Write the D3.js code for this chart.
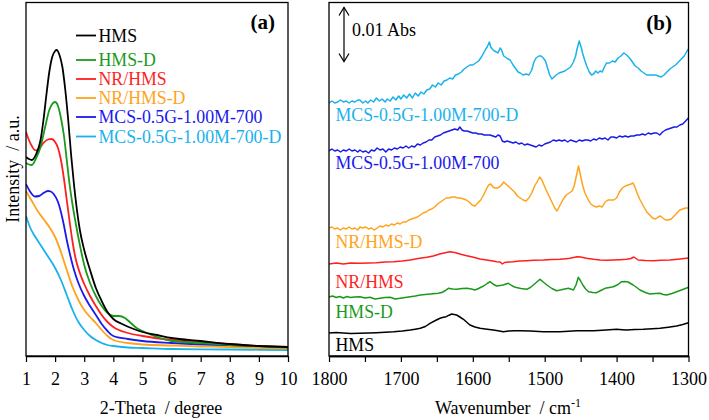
<!DOCTYPE html>
<html><head><meta charset="utf-8">
<script src="https://cdn.jsdelivr.net/npm/d3@7"></script>
<style>body{margin:0;background:#fff}svg{display:block}text{font-family:"Liberation Serif","Times New Roman",serif}</style>
</head><body><svg id="c" width="709" height="420"></svg>
<script>
// ---------- data ----------
const seriesNames = ["HMS","HMS-D","NR/HMS","NR/HMS-D","MCS-0.5G-1.00M-700","MCS-0.5G-1.00M-700-D"];
const seriesColors = ["#000000","#1a9a1a","#ff1f1f","#ffa31a","#1a1aeb","#1ab2ec"];
const xrdTicks = [1,2,3,4,5,6,7,8,9,10];
const irTicks = [1800,1700,1600,1500,1400,1300];
const irMinorTicks = [1750,1650,1550,1450,1350];
const scaleBarAbs = "0.01 Abs";
const scaleBarUnits = 54; // a.u. corresponding to 0.01 Abs

// XRD (a): [2-theta, intensity a.u.]
const xrdHMS = [[1.0,199],[1.1,197],[1.2,196],[1.35,202],[1.5,216],[1.6,236],[1.7,261],[1.8,284],[1.9,299],[2.0,305],[2.05,306],[2.15,301],[2.25,289],[2.35,266],[2.45,236],[2.55,201],[2.65,171],[2.75,146],[2.85,126],[3.0,106],[3.2,86],[3.4,68],[3.6,55],[3.8,44],[4.0,37],[4.3,32],[4.7,27],[5.0,24],[5.5,21],[6.0,18],[7.0,15],[8.0,12],[9.0,10],[10,9]];
const xrdHMSD = [[1.0,193],[1.1,191.5],[1.2,191],[1.35,198],[1.5,209],[1.65,228],[1.8,246],[1.9,252],[2.0,254],[2.1,250],[2.2,238],[2.3,221],[2.4,196],[2.5,171],[2.6,151],[2.7,134],[2.85,111],[3.0,91],[3.2,73],[3.4,60],[3.6,50],[3.8,43],[4.0,40],[4.2,40],[4.4,38],[4.6,33],[4.8,28],[5.0,25],[5.5,19],[6.0,15],[7.0,13],[8.0,11],[9.0,10],[10,8.5]];
const xrdNR = [[1.0,224],[1.1,216],[1.2,210],[1.3,206],[1.4,205.5],[1.5,209],[1.6,213],[1.75,216.5],[1.88,217],[2.0,214],[2.1,208],[2.2,196],[2.3,178],[2.4,156],[2.5,134],[2.6,114],[2.7,98],[2.85,83],[3.0,72],[3.2,60],[3.4,50],[3.6,41],[3.8,34],[4.0,29],[4.5,23],[5.0,20],[6.0,16],[7.0,14],[8.0,12],[9.0,10],[10,9]];
const xrdNRD = [[1.0,165],[1.2,155],[1.4,145],[1.6,137],[1.8,129],[2.0,119],[2.2,104],[2.4,86],[2.6,69],[2.8,56],[3.0,46],[3.2,39],[3.4,33],[3.6,26],[3.8,20],[4.0,16],[4.5,13],[5.0,11.5],[6.0,10.5],[7.0,9.5],[8.0,9],[9.0,8],[10,7.5]];
const xrdMCS = [[1.0,172],[1.15,164],[1.3,159.5],[1.45,160],[1.6,163],[1.75,165],[1.85,164.5],[1.95,162],[2.1,154],[2.2,144],[2.3,131],[2.4,116],[2.5,103],[2.65,86],[2.8,73],[3.0,60],[3.2,50],[3.4,41],[3.6,32],[3.8,25],[4.0,20],[4.5,17],[5.0,15],[6.0,13],[7.0,11.5],[8.0,10.5],[9.0,9.5],[10,8.5]];
const xrdMCSD = [[1.0,140],[1.15,128],[1.3,120],[1.5,111],[1.7,102],[1.9,93],[2.0,88],[2.2,76],[2.4,61],[2.6,46],[2.8,34],[3.0,26],[3.2,20],[3.4,16],[3.6,13],[3.8,11],[4.0,10],[4.5,8.5],[5.0,8],[6.0,7],[8.0,6.5],[10,6]];

// FTIR (b): [wavenumber, offset absorbance a.u.]
const irHMS = [[1800,23],[1790,23.5],[1780,23],[1770,22.5],[1757,22.7],[1745,23],[1734,23.3],[1722,23.8],[1710,24.3],[1698,25],[1687,26],[1680,26.8],[1673,27.7],[1666,29.5],[1659.5,32.7],[1652,35.5],[1645.6,37.7],[1641,38.7],[1637,39.3],[1633,40.8],[1629.4,42],[1626,41.5],[1622.5,41],[1618,39],[1613,36.7],[1608,33.5],[1604,31],[1597,29],[1590,27.7],[1580,26.8],[1571.5,26],[1565,25.3],[1557.6,24.3],[1550,25],[1542,25.2],[1534,25.3],[1520,25],[1502,24.3],[1490,24.2],[1478.7,24.3],[1467,24.8],[1455.6,25.3],[1444,25.2],[1432,25.3],[1420,25.8],[1410,26.3],[1400,26.7],[1392,26.3],[1386,26],[1375,26.5],[1362.8,26.7],[1350,27.2],[1339.7,27.7],[1328,28.8],[1316.5,30],[1308,31.5],[1300,33.3]];
const irHMSD = [[1800,59],[1795,60],[1790,58.5],[1785,59.5],[1780,58],[1775,59.5],[1770,58.5],[1765,59],[1757,59.3],[1750,58],[1743,58.7],[1736,57],[1729,57.7],[1722,58.5],[1715,58.7],[1708,57],[1701,57.7],[1694,58.5],[1687,59.3],[1680,60],[1673,61],[1666,61.5],[1659,62],[1652,62.5],[1648,62.7],[1643,63.5],[1638,65.5],[1634,67.7],[1628,67],[1622.5,66.7],[1615,67.5],[1608,67.7],[1602,67],[1597,66],[1592,67.5],[1588,69],[1585,70],[1580,72.5],[1576,74.3],[1572,72],[1567,70],[1562,70.5],[1557.6,71],[1554,72],[1550.6,72.7],[1546,70.5],[1541,68.7],[1533,67.5],[1525,66.7],[1520,68.5],[1515.8,71],[1511,74],[1506.6,76.7],[1502,74],[1497,71],[1490,67.5],[1483.4,65.3],[1478,66],[1474,66.7],[1467,67.7],[1462,66.5],[1460,66],[1456.5,71],[1453.2,78.7],[1450,75],[1447,71],[1443,67],[1439,64.3],[1433,63.5],[1427.7,63.3],[1422,65.5],[1416,67.7],[1410,68.5],[1404.6,69.3],[1398,71.5],[1393,74.3],[1388,74.5],[1384,74],[1377,71],[1372,68.5],[1367.5,66],[1360,63.5],[1353.6,62],[1346,62.5],[1339.7,62.7],[1335,61.5],[1330.4,61],[1323,62.5],[1316.5,64.3],[1308,66.5],[1300,68.7]];
const irNR = [[1800,92],[1790,93],[1780,92],[1770,93],[1757,92.7],[1745,93],[1734,93.3],[1722,94],[1710,94.3],[1698,95],[1687,96],[1676,97.5],[1664,98.7],[1655,100],[1646,102],[1640,103],[1632,104.3],[1625,103.5],[1618,102],[1610,100.5],[1599,98.7],[1590,97],[1581,96],[1572,95],[1567,94.3],[1562,94],[1559,92],[1556,93.5],[1550,94],[1544,94.3],[1535,95],[1525,95.3],[1515,95.7],[1502,96],[1490,96.5],[1479,96.7],[1470,97.3],[1465,97.7],[1460,98.5],[1455,99.3],[1450,99],[1442,97.7],[1432,96.7],[1423,96],[1414,95.8],[1405,96],[1395,96.3],[1386,96.7],[1380,97.5],[1376,99],[1373,97.5],[1370,96],[1360,95.5],[1349,95.3],[1338,95.7],[1326,96],[1315,96.8],[1306,97.5],[1300,98]];
const irNRD = [[1800,128],[1796,129],[1792,127],[1788,128],[1784,126],[1780,128],[1776,127],[1772,129],[1768,127],[1764,128],[1760,126],[1757,129],[1753,128],[1749,129],[1745,127],[1741,128],[1737,126],[1733,128],[1729,130],[1725,129],[1721,131],[1717,130],[1713,132],[1709,131],[1705,133],[1701,132],[1697,134],[1693,134],[1689,136],[1685,137],[1681,138],[1677,139],[1673,141],[1669,143],[1665,144],[1661,146],[1657,147],[1653,149],[1649,152],[1645,154],[1641,156],[1637,158],[1633,158],[1629,159],[1625,159],[1621,158],[1617,158],[1613,157],[1609,156],[1605,154],[1601,151],[1597,150],[1593,153],[1589,156],[1585,161],[1581,167],[1578,171],[1575,172],[1572,169],[1569,168],[1566,168],[1563,169],[1560,171],[1557,174],[1554,172],[1551,170],[1548,168],[1545,166],[1542,164],[1538,160],[1534,158],[1530,156],[1526,155],[1522,158],[1518,163],[1514,170],[1510,175],[1507,179],[1504,176],[1501,171],[1498,166],[1494,160],[1490,154],[1486,148],[1483,145],[1480,149],[1477,153],[1474,157],[1470,161],[1466,163],[1462,165],[1459,170],[1456,180],[1453,190],[1450,180],[1447,170],[1444,163],[1440,157],[1436,152],[1432,150],[1428,149],[1424,150],[1420,149],[1416,154],[1412,156],[1408,156],[1404,156],[1400,158],[1396,164],[1392,168],[1388,170],[1384,171],[1380,172],[1377,173],[1374,168],[1371,162],[1368,157],[1365,153],[1362,149],[1358,144],[1354,141],[1350,138],[1346,137],[1342,139],[1339,140],[1336,138],[1332,136],[1328,136],[1324,137],[1320,140],[1316,143],[1312,146],[1308,147],[1304,148],[1300,148]];
const irMCS = [[1800,205],[1796,207],[1792,205],[1788,206],[1784,204],[1780,206],[1776,205],[1772,207],[1768,205],[1764,206],[1760,204],[1757,206],[1753,204],[1749,205],[1745,203],[1741,206],[1737,205],[1733,208],[1729,206],[1725,207],[1721,204],[1717,207],[1713,206],[1709,208],[1705,207],[1701,209],[1697,208],[1693,210],[1689,208],[1685,210],[1681,209],[1677,212],[1673,211],[1669,213],[1665,214],[1661,216],[1657,216],[1653,219],[1649,220],[1645,221],[1641,223],[1637,224],[1633,225],[1629,226],[1625,227],[1621,226],[1618,229],[1615,226],[1612,225],[1608,225],[1604,224],[1600,223],[1596,223],[1592,222],[1588,222],[1584,221],[1580,221],[1576,221],[1572,220],[1568,219],[1565,221],[1562,220],[1559,215],[1556,214],[1552,215],[1548,214],[1544,213],[1540,214],[1536,212],[1532,213],[1528,211],[1524,212],[1520,211],[1516,210],[1512,209],[1508,211],[1504,210],[1500,212],[1496,213],[1492,214],[1488,216],[1484,215],[1480,216],[1476,215],[1472,216],[1468,214],[1464,216],[1460,215],[1456,214],[1452,216],[1448,215],[1444,216],[1440,216],[1436,215],[1432,217],[1428,216],[1424,218],[1420,217],[1416,218],[1412,216],[1408,219],[1404,219],[1400,218],[1396,220],[1392,219],[1388,220],[1384,219],[1380,220],[1376,220],[1372,221],[1368,221],[1364,222],[1360,221],[1356,223],[1352,222],[1348,223],[1344,223],[1340,221],[1336,224],[1332,226],[1328,227],[1324,228],[1320,229],[1316,229],[1312,231],[1308,232],[1304,235],[1300,238]];
const irMCSD = [[1800,253],[1796,255],[1792,253],[1788,254],[1784,256],[1780,254],[1776,255],[1772,253],[1768,255],[1764,254],[1760,256],[1757,256],[1753,253],[1749,255],[1746,253],[1742,256],[1738,254],[1734,258],[1730,255],[1726,257],[1722,254],[1719,257],[1715,255],[1711,259],[1707,256],[1703,260],[1700,257],[1696,261],[1692,258],[1688,262],[1684,258],[1680,263],[1676,260],[1672,264],[1668,262],[1664,266],[1660,267],[1656,271],[1652,269],[1648,273],[1644,271],[1640,275],[1636,276],[1632,278],[1628,277],[1624,281],[1620,282],[1616,284],[1612,287],[1608,289],[1604,291],[1600,291],[1596,293],[1592,295],[1588,299],[1585,303],[1582,307],[1580,309],[1577,314],[1575,309],[1573,307],[1570,305],[1567,304],[1565,303],[1562,308],[1560,306],[1557,300],[1555,299],[1551,297],[1548,296],[1544,291],[1541,288],[1537,284],[1534,283],[1530,281],[1526,282],[1522,281],[1518,286],[1515,294],[1512,298],[1508,300],[1505,300],[1502,298],[1499,295],[1496,288],[1493,281],[1490,277],[1487,279],[1484,281],[1480,283],[1476,284],[1472,285],[1468,287],[1464,289],[1460,294],[1457,300],[1455,307],[1452,315],[1449,308],[1447,302],[1444,295],[1441,289],[1438,284],[1435,281],[1432,282],[1429,285],[1426,283],[1423,285],[1420,284],[1417,289],[1414,293],[1410,293],[1406,295],[1402,294],[1398,298],[1394,300],[1390,303],[1386,301],[1382,298],[1378,294],[1374,290],[1370,288],[1366,285],[1362,283],[1358,281],[1354,281],[1350,281],[1346,281],[1342,280],[1338,279],[1334,281],[1330,284],[1326,287],[1322,289],[1318,291],[1314,294],[1310,297],[1306,300],[1302,305],[1300,307]];

const xrdSeries = [xrdHMS, xrdHMSD, xrdNR, xrdNRD, xrdMCS, xrdMCSD];
const irSeries = [irHMS, irHMSD, irNR, irNRD, irMCS, irMCSD];

// ---------- layout ----------
const svg = d3.select("#c");
const FONT = 18;
const A = {l:26, r:288, t:2.5, b:356};
const B = {l:329, r:688.5, t:2.5, b:356};

const xa = d3.scaleLinear().domain([1,10]).range([A.l, A.r]);
const ya = d3.scaleLinear().domain([0,353.5]).range([A.b, A.t]);
const xb = d3.scaleLinear().domain([1800,1300]).range([B.l, B.r]);
const yb = d3.scaleLinear().domain([0,353.5]).range([B.b, B.t]);

function axisStyle(g){
  g.select(".domain").attr("stroke","#000").attr("stroke-width",1.3);
  g.selectAll(".tick line").attr("stroke","#000").attr("stroke-width",1.2);
  g.selectAll(".tick text").attr("font-size",FONT).attr("fill","#000")
    .attr("font-family","'Liberation Serif','Times New Roman',serif");
}

// Panel a
const ga = svg.append("g");
ga.append("g").attr("transform",`translate(0,${A.b})`)
  .call(d3.axisBottom(xa).tickValues(xrdTicks).tickFormat(d3.format("d")).tickSize(6).tickSizeOuter(0).tickPadding(10))
  .call(axisStyle);
const lineA = d3.line().x(d=>xa(d[0])).y(d=>ya(d[1])).curve(d3.curveMonotoneX);
svg.append("clipPath").attr("id","clipA").append("rect")
  .attr("x",A.l).attr("y",A.t).attr("width",A.r-A.l).attr("height",A.b-A.t);
for (let i = xrdSeries.length-1; i >= 0; i--) {
  ga.append("path").datum(xrdSeries[i]).attr("d",lineA).attr("fill","none")
    .attr("stroke",seriesColors[i]).attr("stroke-width",1.8).attr("clip-path","url(#clipA)");
}
ga.append("rect").attr("x",A.l).attr("y",A.t).attr("width",A.r-A.l).attr("height",A.b-A.t)
  .attr("fill","none").attr("stroke","#000").attr("stroke-width",1.3);

// legend a
const legY = [35.5, 60, 79, 98, 117, 136.5];
seriesNames.forEach((n,i)=>{
  ga.append("line").attr("x1",76).attr("x2",96).attr("y1",legY[i]).attr("y2",legY[i])
    .attr("stroke",seriesColors[i]).attr("stroke-width",1.8);
  ga.append("text").attr("x",98.5).attr("y",legY[i]+6).attr("font-size",17.8)
    .attr("fill",seriesColors[i]).text(n);
});
ga.append("text").attr("x",275).attr("y",29).attr("text-anchor","end").attr("font-size",21)
  .attr("font-weight","bold").text("(a)");
ga.append("text").attr("x",161).attr("y",414).attr("text-anchor","middle").attr("font-size",FONT)
  .style("white-space","pre").text("2-Theta  / degree");
ga.append("text").attr("transform","translate(19,169) rotate(-90)").attr("text-anchor","middle")
  .attr("font-size",FONT).style("white-space","pre").text("Intensity  / a.u.");

// Panel b
const gb = svg.append("g");
gb.append("g").attr("transform",`translate(0,${B.b})`)
  .call(d3.axisBottom(xb).tickValues(irTicks).tickFormat(d3.format("d")).tickSize(6).tickSizeOuter(0).tickPadding(10))
  .call(axisStyle);
gb.append("g").attr("transform",`translate(0,${B.b})`)
  .call(d3.axisBottom(xb).tickValues(irMinorTicks).tickFormat("").tickSize(6).tickSizeOuter(0))
  .call(axisStyle);
svg.append("clipPath").attr("id","clipB").append("rect")
  .attr("x",B.l).attr("y",B.t).attr("width",B.r-B.l).attr("height",B.b-B.t);
const lineB = d3.line().x(d=>xb(d[0])).y(d=>yb(d[1]));
irSeries.forEach((s,i)=>{
  gb.append("path").datum(s).attr("d",lineB).attr("fill","none")
    .attr("stroke",seriesColors[i]).attr("stroke-width",1.5).attr("stroke-linejoin","round")
    .attr("clip-path","url(#clipB)");
});
gb.append("rect").attr("x",B.l).attr("y",B.t).attr("width",B.r-B.l).attr("height",B.b-B.t)
  .attr("fill","none").attr("stroke","#000").attr("stroke-width",1.3);

// series labels in b (label levels in a.u. of the IR axis)
const irLabelLevels = [11, 44.5, 74.5, 114.5, 193, 241];
seriesNames.forEach((n,i)=>{
  gb.append("text").attr("x",335.5).attr("y",yb(irLabelLevels[i])+6).attr("font-size",17.8)
    .attr("fill",seriesColors[i]).text(n);
});
gb.append("text").attr("x",672).attr("y",30).attr("text-anchor","end").attr("font-size",21)
  .attr("font-weight","bold").text("(b)");

// scale bar
const barTop = 348.5, barBot = barTop - scaleBarUnits;
const bx = 344;
gb.append("line").attr("x1",bx).attr("x2",bx).attr("y1",yb(barTop)).attr("y2",yb(barBot))
  .attr("stroke","#000").attr("stroke-width",1.2);
gb.append("path").attr("d",`M${bx-5},${yb(barTop)+8}L${bx},${yb(barTop)}L${bx+5},${yb(barTop)+8}`)
  .attr("fill","none").attr("stroke","#000").attr("stroke-width",1.2);
gb.append("path").attr("d",`M${bx-5},${yb(barBot)-8}L${bx},${yb(barBot)}L${bx+5},${yb(barBot)-8}`)
  .attr("fill","none").attr("stroke","#000").attr("stroke-width",1.2);
gb.append("text").attr("x",352).attr("y",36).attr("font-size",FONT).text(scaleBarAbs);

// x title b
const tb = gb.append("text").attr("x",508).attr("y",414).attr("text-anchor","middle").attr("font-size",FONT)
  .style("white-space","pre");
tb.append("tspan").text("Wavenumber  / cm");
tb.append("tspan").attr("dy",-7).attr("font-size",12).text("-1");
</script></body></html>
